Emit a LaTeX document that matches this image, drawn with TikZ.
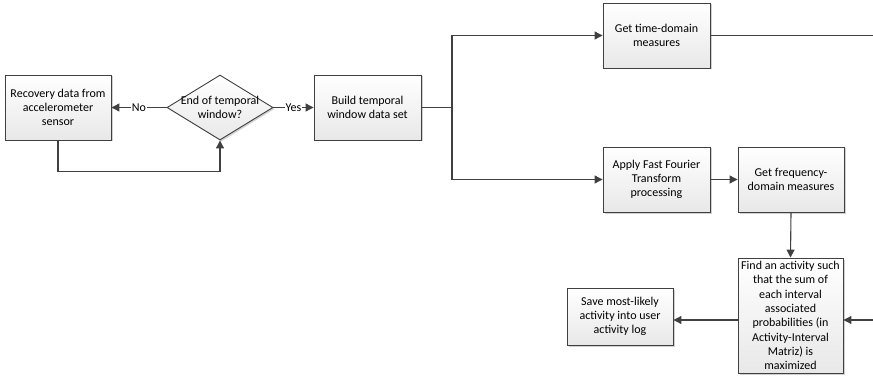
\documentclass[tikz,border=0pt]{standalone}
\usepackage{fontspec}
\setmainfont{Carlito}
\usetikzlibrary{arrows.meta,shapes.geometric,shadows}
\definecolor{ln}{HTML}{404040}
\begin{document}
\begin{tikzpicture}[x=1pt,y=-1pt,
  box/.style={draw=ln, line width=0.9pt, top color=white, bottom color=black!9,
    drop shadow={shadow xshift=1.5pt,shadow yshift=-1.5pt,fill=black!40,opacity=0.45},
    align=center, font=\fontsize{12}{14.3}\selectfont, inner sep=0pt,
    minimum width=106pt, minimum height=65pt},
  dia/.style={box, diamond, minimum width=106pt, minimum height=65pt},
  flow/.style={draw=ln, line width=1.1pt, -{Triangle[length=8pt,width=8pt]}},
  plain/.style={draw=ln, line width=1.1pt},
  lbl/.style={fill=white, inner sep=1pt, font=\fontsize{12}{13}\selectfont}]
\useasboundingbox (0,0) rectangle (873,385);

\node[box] (rec) at (58,107.5) {Recovery data from\\accelerometer\\sensor};
\node[dia, label={[align=center,font=\fontsize{12}{14.3}\selectfont,inner sep=0pt]center:End of temporal\\window?}] (dec) at (220,107.5) {};
\node[box, minimum width=107pt] (build) at (367.5,107.5) {Build temporal\\window data set};
\node[box, minimum width=107pt] (time) at (656.5,35.5) {Get time-domain\\measures};
\node[box, minimum width=107pt] (fft) at (656.5,179.5) {Apply Fast Fourier\\Transform\\processing};
\node[box] (freq) at (791,179.5) {Get frequency-\\domain measures};
\node[box, minimum width=105pt, minimum height=115pt] (find) at (790.5,315.5) {Find an activity such\\that the sum of\\each interval\\associated\\probabilities (in\\Activity-Interval\\Matriz) is\\maximized};
\node[box, minimum height=57pt] (save) at (620,316.5) {Save most-likely\\activity into user\\activity log};

\coordinate (split) at (452,107.5);
\coordinate (tend) at (873,35.5);
\coordinate (rin) at (873,320);

\draw[flow] (dec.west) -- node[lbl]{No} (rec.east);
\draw[flow] (dec.east) -- node[lbl]{Yes} (build.west);
\draw[flow] (rec.south) -- ++(0,31) -| (dec.south);
\draw[plain] (build.east) -- (split);
\draw[flow] (split) |- (time.west);
\draw[flow] (split) |- (fft.west);
\draw[plain] (time.east) -- (tend);
\draw[flow] (fft.east) -- (freq.west);
\draw[flow] (freq.south) -- (find.north);
\draw[flow] (rin) -- (find.east |- rin);
\draw[flow] (find.west |- rin) -- (save.east |- rin);
\end{tikzpicture}
\end{document}
